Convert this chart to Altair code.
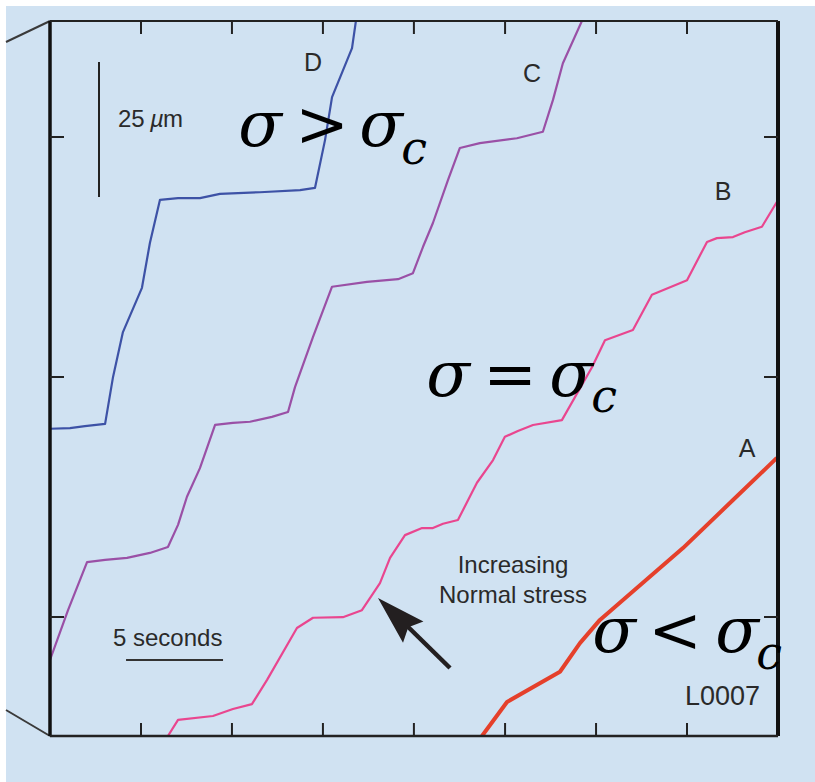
import altair as alt
import pandas as pd

# ---- series: displacement (µm) against time (s) ----
D_t = [0, 1.03, 1.80, 2.84, 3.25, 3.76, 4.74, 5.15, 5.67, 6.60, 7.73, 8.76, 10.82, 12.89, 13.66, 14.18, 14.54, 15.57, 15.77]
D_um = [56.9, 57.0, 57.4, 57.8, 66.5, 74.8, 83.0, 91.3, 99.3, 99.6, 99.6, 100.4, 100.7, 101.1, 101.5, 110.4, 118.3, 127.4, 132.4]

C_t = [0, 0.93, 1.91, 2.84, 3.97, 5.15, 6.08, 6.60, 7.06, 7.73, 8.51, 9.43, 10.31, 11.44, 12.27, 12.63,
       13.56, 14.54, 16.34, 17.94, 18.71, 19.23, 19.74, 20.52, 21.13, 22.16, 24.07, 25.41, 25.93, 26.44, 27.42]
C_um = [14.1, 23.3, 32.2, 32.6, 33.0, 33.9, 35.0, 39.1, 44.3, 49.6, 57.6, 58.0, 58.2, 59.1, 60.0, 64.6,
        73.9, 83.2, 84.1, 84.6, 85.7, 90.6, 95.0, 103.0, 108.9, 109.8, 110.7, 111.9, 117.8, 124.6, 132.4]

B_t = [6.08, 6.60, 8.40, 9.43, 10.41, 11.19, 12.73, 13.56, 15.10, 16.08, 17.01, 17.53, 18.30, 19.18, 19.74, 20.26, 21.03,
       22.01, 22.84, 23.45, 24.12, 24.90, 26.39, 27.94, 28.61, 30.05, 31.03, 32.84, 33.87, 34.38, 35.21, 35.82, 36.70, 37.47]
B_um = [0.0, 3.0, 3.7, 5.0, 5.9, 10.4, 20.0, 21.9, 22.0, 23.3, 28.3, 33.0, 37.2, 38.5, 38.5, 39.3, 40.0,
        46.9, 51.1, 55.4, 56.5, 57.6, 58.5, 68.3, 73.3, 75.2, 81.7, 84.4, 91.5, 92.2, 92.4, 93.3, 94.3, 98.9]

A_t = [22.27, 23.56, 26.29, 27.32, 28.35, 32.63, 35.21, 37.47]
A_um = [0.0, 6.3, 11.9, 17.2, 21.5, 34.8, 43.7, 51.5]

SERIES = ["D", "C", "B", "A"]
SERIES_COLORS = {"D": "#3d52a6", "C": "#9a50a6", "B": "#e9468f", "A": "#e5402b"}
SERIES_WIDTHS = {"D": 2.2, "C": 2.2, "B": 2.2, "A": 4}

# tick positions (unlabelled) and scale-bar values
X_DOMAIN = [0, 37.53]
Y_DOMAIN = [0, 132.41]
X_TICKS = [4.69, 9.38, 14.07, 18.76, 23.46, 28.15, 32.84]
Y_TICKS = [22.04, 66.48, 110.93]
BAR_UM = 25       # vertical scale bar, µm
BAR_UM_START = 99.8
BAR_S = 5         # horizontal scale bar, seconds
BAR_S_START = 3.92

rows = []
for name, ts, ds in [("D", D_t, D_um), ("C", C_t, C_um), ("B", B_t, B_um), ("A", A_t, A_um)]:
    for i, (t, d) in enumerate(zip(ts, ds)):
        rows.append({"series": name, "i": i, "t": t, "um": d})
df = pd.DataFrame(rows)

W, H = 728, 715
BG = "#d0e2f2"
INK = "#111111"
TXT = "#2a2a2a"

xs = alt.Scale(domain=X_DOMAIN, nice=False, zero=False)
ys = alt.Scale(domain=Y_DOMAIN, nice=False, zero=False)

one = alt.Chart(alt.Data(values=[{}]))

background = one.mark_rect(color=BG).encode(
    x=alt.value(-44), x2=alt.value(W + 37), y=alt.value(-15), y2=alt.value(H + 46)
)

# perspective connector lines on the left
connectors = alt.layer(
    one.mark_rule(color="#3a3a3a", strokeWidth=2).encode(
        x=alt.value(-44), y=alt.value(21), x2=alt.value(0), y2=alt.value(0)),
    one.mark_rule(color="#3a3a3a", strokeWidth=2).encode(
        x=alt.value(-44), y=alt.value(H - 26), x2=alt.value(0), y2=alt.value(H)),
)

# one line layer per run
lines = alt.layer(*[
    alt.Chart(df).transform_filter(alt.datum.series == s).mark_line(
        clip=True, strokeJoin="round", color=SERIES_COLORS[s], strokeWidth=SERIES_WIDTHS[s]
    ).encode(
        x=alt.X("t:Q", scale=xs, axis=None),
        y=alt.Y("um:Q", scale=ys, axis=None),
        order="i:Q",
    )
    for s in SERIES
])

# frame
frame = alt.layer(
    one.mark_rule(color=INK, strokeWidth=3.5).encode(x=alt.value(0), y=alt.value(0), y2=alt.value(H)),
    one.mark_rule(color=INK, strokeWidth=4).encode(x=alt.value(W), y=alt.value(0), y2=alt.value(H)),
    one.mark_rule(color="#222222", strokeWidth=2).encode(y=alt.value(0), x=alt.value(0), x2=alt.value(W)),
    one.mark_rule(color="#222222", strokeWidth=2.5).encode(y=alt.value(H), x=alt.value(0), x2=alt.value(W)),
)

xt = pd.DataFrame({"v": X_TICKS})
yt = pd.DataFrame({"v": Y_TICKS})
ticks = alt.layer(
    alt.Chart(xt).mark_rule(color="#222222", strokeWidth=2).encode(
        x=alt.X("v:Q", scale=xs, axis=None), y=alt.value(0), y2=alt.value(13)),
    alt.Chart(xt).mark_rule(color="#222222", strokeWidth=2).encode(
        x=alt.X("v:Q", scale=xs, axis=None), y=alt.value(H - 13), y2=alt.value(H)),
    alt.Chart(yt).mark_rule(color="#222222", strokeWidth=2).encode(
        y=alt.Y("v:Q", scale=ys, axis=None), x=alt.value(0), x2=alt.value(14)),
    alt.Chart(yt).mark_rule(color="#222222", strokeWidth=2).encode(
        y=alt.Y("v:Q", scale=ys, axis=None), x=alt.value(W - 14), x2=alt.value(W)),
)

# scale bars
bars_df = pd.DataFrame({"s0": [BAR_S_START], "s1": [BAR_S_START + BAR_S],
                        "u0": [BAR_UM_START], "u1": [BAR_UM_START + BAR_UM]})
scale_bars = alt.layer(
    alt.Chart(bars_df).mark_rule(color="#222222", strokeWidth=2).encode(
        x=alt.value(49), y=alt.Y("u0:Q", scale=ys, axis=None), y2="u1:Q"),
    alt.Chart(bars_df).mark_rule(color="#333333", strokeWidth=2.2).encode(
        y=alt.value(639), x=alt.X("s0:Q", scale=xs, axis=None), x2="s1:Q"),
)

# arrow pointing up-left
arrow = alt.layer(
    one.mark_rule(color="#231f20", strokeWidth=4.5, strokeCap="butt").encode(
        x=alt.value(400), y=alt.value(647), x2=alt.value(350), y2=alt.value(598)),
    one.mark_point(shape="M0,-1L0.6,1L0,0.72L-0.6,1Z", filled=True, opacity=1,
                   color="#231f20", size=2401, angle=314, strokeWidth=0).encode(
        x=alt.value(345.6), y=alt.value(594.1)),
)


def label(text, x, y, size, align="left", font="Liberation Sans", style="normal", color=TXT):
    return one.mark_text(text=text, align=align, baseline="alphabetic", font=font,
                         fontSize=size, fontStyle=style, color=color).encode(
        x=alt.value(x), y=alt.value(y))


def relation(op, x_s1, x_op, x_s2, x_c, base, base_c):
    serif = "DejaVu Serif"
    return alt.layer(
        label("σ", x_s1, base, 64, align="center", font=serif, style="italic", color="#000000"),
        label(op, x_op, base, 64, align="center", font=serif, color="#000000"),
        label("σ", x_s2, base, 64, align="center", font=serif, style="italic", color="#000000"),
        label("c", x_c, base_c, 46, align="center", font=serif, style="italic", color="#000000"),
    )


texts = alt.layer(
    label("D", 263, 50, 25, align="center"),
    label("C", 482, 61, 25, align="center"),
    label("B", 673, 179, 25, align="center"),
    label("A", 697, 436, 25, align="center"),
    # "25 µm" with an italic mu
    label("25", 68, 106, 24),
    label("µ", 100, 106, 24, style="italic"),
    label("m", 113, 106, 24),
    label("5 seconds", 63, 625, 24),
    label("Increasing", 463, 552, 24, align="center"),
    label("Normal stress", 463, 582, 24, align="center"),
    label("L0007", 635, 684, 27),
    relation(">", 210, 272, 331, 364, 125, 143),
    relation("=", 398, 460, 521, 554, 375, 391),
    relation("<", 564, 625, 687, 719, 631, 648),
)

chart = alt.layer(
    background, connectors, lines, frame, ticks, scale_bars, arrow, texts
).properties(
    width=W, height=H,
    padding={"left": 50, "top": 21, "right": 37, "bottom": 46},
    autosize=alt.AutoSizeParams(type="none"),
    background="white",
).configure_view(stroke=None)

chart.save("out.html", embed_options={"renderer": "svg", "actions": False})
